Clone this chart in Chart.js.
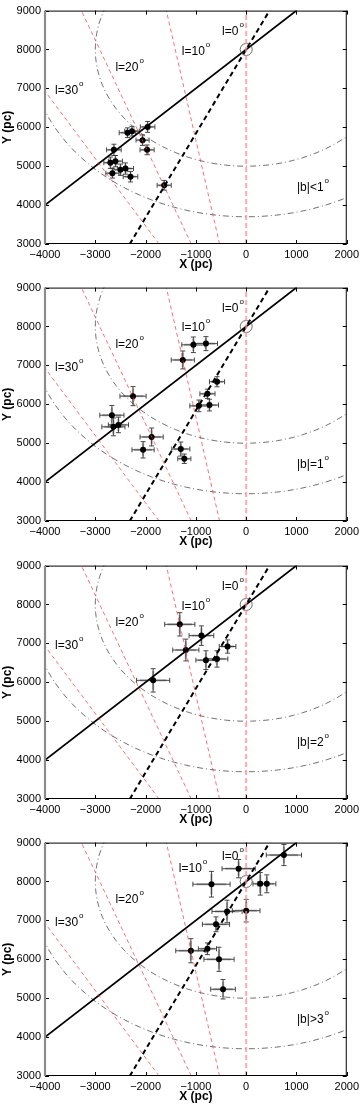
<!DOCTYPE html>
<html lang="en">
<head>
<meta charset="UTF-8">
<title>X-Y positions</title>
<style>
  body { margin: 0; background: #fff; width: 363px; height: 1105px; overflow: hidden; }
  .panel { position: absolute; left: 0; width: 363px; height: 277px; }
</style>
<script src="https://cdn.jsdelivr.net/npm/chart.js@4/dist/chart.umd.min.js"></script>
</head>
<body>
<div class="panel" style="top:0px"><canvas id="c0"></canvas></div>
<div class="panel" style="top:277px"><canvas id="c1"></canvas></div>
<div class="panel" style="top:555px"><canvas id="c2"></canvas></div>
<div class="panel" style="top:832px"><canvas id="c3"></canvas></div>
<script>
// axes
const xTicks = [-4000, -3000, -2000, -1000, 0, 1000, 2000];
const yTicks = [3000, 4000, 5000, 6000, 7000, 8000, 9000];

// guide geometry
const sunPos = [0, 8000];
const lonLines = [10, 20, 30];          // red dashed lines, degrees
const arcRadii = [3000, 4300];          // dash-dot circles around the sun
const barSlope = 2.16;                  // dashed black line through the sun
const solidLine = [[-4000, 4000], [1000, 9000]];

// panel titles
const bLabels = ['|b|<1', '|b|=1', '|b|=2', '|b|>3'];
const lonLabels = ['l=0', 'l=10', 'l=20', 'l=30'];

// |b|<1
const x1 = [-1960, -2270, -2360, -2060, -1970, -2630, -2600, -2700, -2400, -2500, -2660, -2300, -1630];
const y1 = [6010, 5900, 5860, 5670, 5420, 5420, 5130, 5090, 4940, 4910, 4820, 4730, 4510];
const ex1 = [145, 145, 165, 130, 140, 145, 140, 130, 160, 145, 130, 145, 140];
const ey1 = [140, 125, 125, 135, 125, 145, 145, 145, 145, 145, 125, 135, 125];

// |b|=1
const x2 = [-1050, -800, -1260, -580, -770, -940, -730, -2250, -2670, -2640, -2540, -1880, -2050, -1300, -1230];
const y2 = [7530, 7560, 7140, 6580, 6270, 5960, 5980, 6210, 5720, 5420, 5470, 5160, 4830, 4850, 4600];
const ex2 = [230, 230, 230, 150, 150, 180, 180, 260, 240, 230, 200, 230, 220, 180, 130];
const ey2 = [200, 180, 230, 130, 120, 150, 150, 245, 250, 230, 200, 230, 210, 180, 120];

// |b|=2
const x3 = [-1320, -890, -1200, -370, -800, -580, -1850];
const y3 = [7490, 7200, 6830, 6920, 6570, 6600, 6050];
const ex3 = [300, 245, 260, 165, 200, 215, 330];
const ey3 = [300, 250, 280, 170, 240, 210, 300];

// |b|>3
const x4 = [750, -150, -690, 280, 410, -380, 0, -600, -1100, -770, -540, -460];
const y4 = [8680, 8330, 7930, 7940, 7940, 7230, 7250, 6900, 6220, 6270, 6000, 5230];
const ex4 = [350, 330, 370, 145, 180, 300, 275, 270, 300, 180, 300, 245];
const ey4 = [270, 235, 330, 290, 230, 290, 290, 190, 310, 150, 310, 250];

const panels = [
  { x: x1, y: y1, ex: ex1, ey: ey1, l0: [-480, 8370], l10: [-1280, 7870] },
  { x: x2, y: y2, ex: ex2, ey: ey2, l0: [-480, 8380], l10: [-1280, 7880] },
  { x: x3, y: y3, ex: ex3, ey: ey3, l0: [-480, 8380], l10: [-1280, 7850] },
  { x: x4, y: y4, ex: ex4, ey: ey4, l0: [-480, 8540], l10: [-1340, 8250] }
];
const l20Pos = [-2600, 7450];
const l30Pos = [-3800, 6850];
const bPos = [1010, 4370];

Chart.defaults.font.family = '"Liberation Sans", Arial, sans-serif';
Chart.defaults.color = '#000';

function arcPoints(r) {
  const pts = [];
  for (let a = 0; a <= 360; a += 2) {
    const t = a * Math.PI / 180;
    pts.push({ x: sunPos[0] + r * Math.cos(t), y: sunPos[1] + r * Math.sin(t) });
  }
  return pts;
}

function seg(ctx, a, b, c, d) {
  ctx.beginPath(); ctx.moveTo(a, b); ctx.lineTo(c, d); ctx.stroke();
}

const errorBars = {
  id: 'errorBars',
  beforeDatasetsDraw(chart, args, opts) {
    const ctx = chart.ctx, xs = chart.scales.x, ys = chart.scales.y;
    const p = opts.panel;
    ctx.save();
    for (let i = 0; i < p.x.length; i++) {
      const cx = xs.getPixelForValue(p.x[i]), cy = ys.getPixelForValue(p.y[i]);
      const xa = xs.getPixelForValue(p.x[i] - p.ex[i]), xb = xs.getPixelForValue(p.x[i] + p.ex[i]);
      const ya = ys.getPixelForValue(p.y[i] - p.ey[i]), yb = ys.getPixelForValue(p.y[i] + p.ey[i]);
      ctx.strokeStyle = '#b8b8b8';
      ctx.lineWidth = 2.2;
      seg(ctx, cx - (cx - xa) * 0.8, cy, cx + (xb - cx) * 0.8, cy);
      seg(ctx, cx, cy - (cy - yb) * 0.8, cx, cy + (ya - cy) * 0.8);
      ctx.strokeStyle = '#333';
      ctx.lineWidth = 0.9;
      seg(ctx, xa, cy, xb, cy);
      seg(ctx, cx, ya, cx, yb);
      seg(ctx, xa, cy - 2.5, xa, cy + 2.5);
      seg(ctx, xb, cy - 2.5, xb, cy + 2.5);
      seg(ctx, cx - 2.5, ya, cx + 2.5, ya);
      seg(ctx, cx - 2.5, yb, cx + 2.5, yb);
    }
    ctx.restore();
  }
};

function drawLabel(ctx, xs, ys, text, pos) {
  const px = xs.getPixelForValue(pos[0]), py = ys.getPixelForValue(pos[1]);
  ctx.font = '12px "Liberation Sans", Arial, sans-serif';
  ctx.fillStyle = '#000';
  ctx.textBaseline = 'alphabetic';
  ctx.textAlign = 'left';
  ctx.fillText(text, px, py);
  const w = ctx.measureText(text).width;
  ctx.font = '8px "Liberation Sans", Arial, sans-serif';
  ctx.fillText('o', px + w + 1, py - 8);
}

const frame = {
  id: 'frame',
  afterDraw(chart, args, opts) {
    const ctx = chart.ctx, a = chart.chartArea;
    const xs = chart.scales.x, ys = chart.scales.y;
    ctx.save();
    ctx.strokeStyle = '#000';
    ctx.lineWidth = 1;
    seg(ctx, a.left, a.top + 0.5, a.right, a.top + 0.5);
    seg(ctx, a.right - 0.5, a.top, a.right - 0.5, a.bottom);
    seg(ctx, a.left, a.bottom - 0.5, a.right, a.bottom - 0.5);
    xTicks.forEach(v => {
      const px = Math.round(xs.getPixelForValue(v)) + 0.5;
      seg(ctx, px, a.bottom, px, a.bottom - 4);
      seg(ctx, px, a.top, px, a.top + 4);
    });
    yTicks.forEach(v => {
      const py = Math.round(ys.getPixelForValue(v)) + 0.5;
      seg(ctx, a.left, py, a.left + 4, py);
      seg(ctx, a.right, py, a.right - 4, py);
    });
    ctx.strokeStyle = '#8c8c8c';
    ctx.lineWidth = 2.2;
    seg(ctx, a.left, a.top, a.left, a.bottom);

    const p = opts.panel;
    drawLabel(ctx, xs, ys, lonLabels[0], p.l0);
    drawLabel(ctx, xs, ys, lonLabels[1], p.l10);
    drawLabel(ctx, xs, ys, lonLabels[2], l20Pos);
    drawLabel(ctx, xs, ys, lonLabels[3], l30Pos);
    drawLabel(ctx, xs, ys, opts.bText, bPos);
    ctx.restore();
  }
};

panels.forEach((p, k) => {
  const datasets = [];
  // red longitude lines on top
  lonLines.forEach(l => {
    const t = Math.tan(l * Math.PI / 180);
    datasets.push({
      data: [{ x: -3000 * t, y: 3000 }, { x: -9000 * t, y: 9000 }],
      showLine: true, pointRadius: 0, borderColor: 'rgba(240,50,50,0.85)',
      borderWidth: 0.8, borderDash: [4, 3]
    });
  });
  datasets.push({
    data: [{ x: 0, y: 3000 }, { x: 0, y: 9000 }],
    showLine: true, pointRadius: 0, borderColor: 'rgba(255,140,140,0.75)',
    borderWidth: 2, borderDash: [5, 3]
  });
  // sun marker
  datasets.push({
    data: [{ x: sunPos[0], y: sunPos[1] }],
    pointRadius: 6, pointStyle: 'circle', backgroundColor: 'rgba(0,0,0,0)',
    borderColor: '#444', borderWidth: 0.8
  });
  // bar line and solid line
  datasets.push({
    data: [{ x: sunPos[0] + (3000 - sunPos[1]) / barSlope, y: 3000 },
           { x: sunPos[0] + (9000 - sunPos[1]) / barSlope, y: 9000 }],
    showLine: true, pointRadius: 0, borderColor: '#000', borderWidth: 2, borderDash: [5, 3.5]
  });
  datasets.push({
    data: solidLine.map(q => ({ x: q[0], y: q[1] })),
    showLine: true, pointRadius: 0, borderColor: '#000', borderWidth: 1.8
  });
  // points
  datasets.push({
    data: p.x.map((v, i) => ({ x: v, y: p.y[i] })),
    pointRadius: 3, backgroundColor: '#000', borderWidth: 0
  });
  // dash-dot circles
  arcRadii.forEach(r => {
    datasets.push({
      data: arcPoints(r),
      showLine: true, pointRadius: 0, borderColor: '#333',
      borderWidth: 0.7, borderDash: [6, 3, 1, 3]
    });
  });

  new Chart(document.getElementById('c' + k), {
    type: 'scatter',
    data: { datasets },
    options: {
      responsive: true,
      maintainAspectRatio: false,
      animation: false,
      layout: { padding: { top: 0, right: 14, left: 0, bottom: 0 } },
      plugins: {
        legend: { display: false },
        tooltip: { enabled: false },
        errorBars: { panel: p },
        frame: { panel: p, bText: bLabels[k] }
      },
      scales: {
        x: {
          type: 'linear', min: -4000, max: 2000,
          grid: { display: false, drawTicks: false }, border: { display: false },
          afterBuildTicks: s => { s.ticks = xTicks.map(v => ({ value: v })); },
          afterFit: s => { s.height = 33; },
          ticks: {
            padding: 4, font: { size: 11 }, maxRotation: 0,
            callback: v => (v < 0 ? '\u2212' + Math.abs(v) : String(v))
          },
          title: { display: true, text: 'X (pc)', font: { size: 12, weight: 'bold' }, padding: { top: 0, bottom: 5 } }
        },
        y: {
          type: 'linear', min: 3000, max: 9000,
          grid: { display: false, drawTicks: false }, border: { display: false },
          afterBuildTicks: s => { s.ticks = yTicks.map(v => ({ value: v })); },
          afterFit: s => { s.width = 45; },
          ticks: { padding: 4, font: { size: 11 }, callback: v => String(v) },
          title: { display: true, text: 'Y (pc)', font: { size: 12, weight: 'bold' }, padding: { top: 0, bottom: 0 } }
        }
      }
    },
    plugins: [errorBars, frame]
  });
});
</script>
</body>
</html>
